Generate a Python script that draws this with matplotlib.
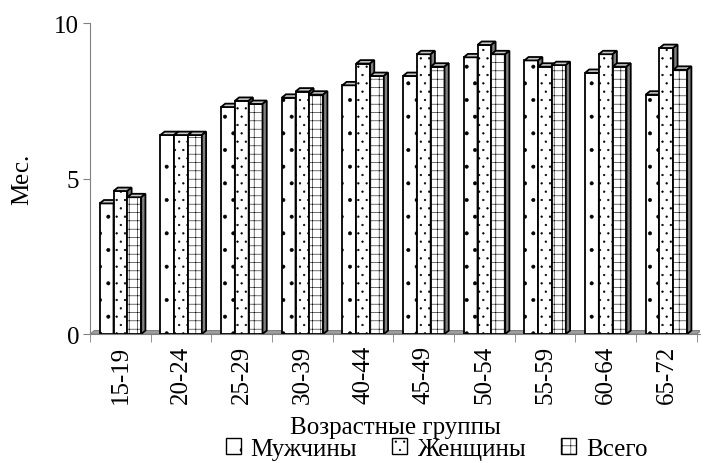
import matplotlib
matplotlib.use('Agg')
from matplotlib import pyplot as plt
from matplotlib.patches import Polygon, Patch
import numpy as np

# data
age_groups = ['15-19', '20-24', '25-29', '30-39', '40-44',
              '45-49', '50-54', '55-59', '60-64', '65-72']
men = [4.2, 6.4, 7.3, 7.6, 8.0, 8.3, 8.9, 8.8, 8.4, 7.7]
women = [4.6, 6.4, 7.5, 7.8, 8.7, 9.0, 9.3, 8.6, 9.0, 9.2]
total = [4.4, 6.4, 7.4, 7.7, 8.3, 8.6, 9.0, 8.65, 8.6, 8.5]
series_names = ['Мужчины', 'Женщины', 'Всего']

plt.rcParams['font.family'] = ['Liberation Serif', 'DejaVu Serif']
plt.rcParams['hatch.linewidth'] = 0.4
plt.rcParams['hatch.color'] = '#707070'

fig = plt.figure(figsize=(7.04, 4.64), dpi=100)
ax = fig.add_axes([0.128, 0.278, 0.866, 0.670])

width = 0.228
dx, dy = 0.07, 0.11       # depth offset for the fake 3d look
hatches = ['.', '..', '++']
top_col = '#c8c8c8'
side_col = '#808080'

x = np.arange(len(age_groups))
all_series = [men, women, total]

# floor
floor = Polygon([(-0.5, 0), (len(x) - 0.5, 0), (len(x) - 0.5 + dx, dy), (-0.5 + dx, dy)],
                closed=True, facecolor='#a0a0a0', edgecolor='#808080', lw=0.8, zorder=1)
ax.add_patch(floor)

z = 2
for i in range(len(x)):
    for k, vals in enumerate(all_series):
        x0 = x[i] + (k - 1) * width - width / 2
        h = vals[i]
        ax.bar(x0, h, width=width, align='edge', facecolor='white', edgecolor='black',
               hatch=hatches[k], lw=1.3, zorder=z)
        top = Polygon([(x0, h), (x0 + width, h), (x0 + width + dx, h + dy), (x0 + dx, h + dy)],
                      closed=True, facecolor=top_col, edgecolor='black', lw=1.3, zorder=z + 0.1)
        side = Polygon([(x0 + width, 0), (x0 + width + dx, dy), (x0 + width + dx, h + dy), (x0 + width, h)],
                       closed=True, facecolor=side_col, edgecolor='black', lw=1.3, zorder=z + 0.1)
        ax.add_patch(top)
        ax.add_patch(side)
        z += 1

ax.set_xlim(-0.5, len(x) - 0.5 + 0.05)
ax.set_ylim(0, 10)
ax.set_yticks([0, 5, 10])
ax.tick_params(axis='y', direction='out', length=5, color='#808080', labelsize=18, pad=3)

ax.set_xticks(x)
ax.set_xticklabels(age_groups, rotation=90, fontsize=18)
ax.set_xticks(np.arange(-0.5, len(x)), minor=True)
ax.tick_params(axis='x', which='major', length=0, pad=8)
ax.tick_params(axis='x', which='minor', direction='out', length=6, color='#808080')

for s in ['top', 'right']:
    ax.spines[s].set_visible(False)
ax.spines['left'].set_color('#808080')
ax.spines['bottom'].set_color('#808080')

ax.set_ylabel('Мес.', fontsize=18, labelpad=15)
ax.set_xlabel('Возрастные группы', fontsize=18, labelpad=9)

handles = [Patch(facecolor='white', edgecolor='black', hatch=hatches[k], lw=1) for k in range(3)]
fig.legend(handles, series_names, loc='center', bbox_to_anchor=(0.62, 0.03), ncol=3,
           frameon=False, fontsize=18, handlelength=0.6, handleheight=0.6,
           handletextpad=0.4, columnspacing=1.4, borderpad=0)

fig.savefig('out.png', dpi=100)
